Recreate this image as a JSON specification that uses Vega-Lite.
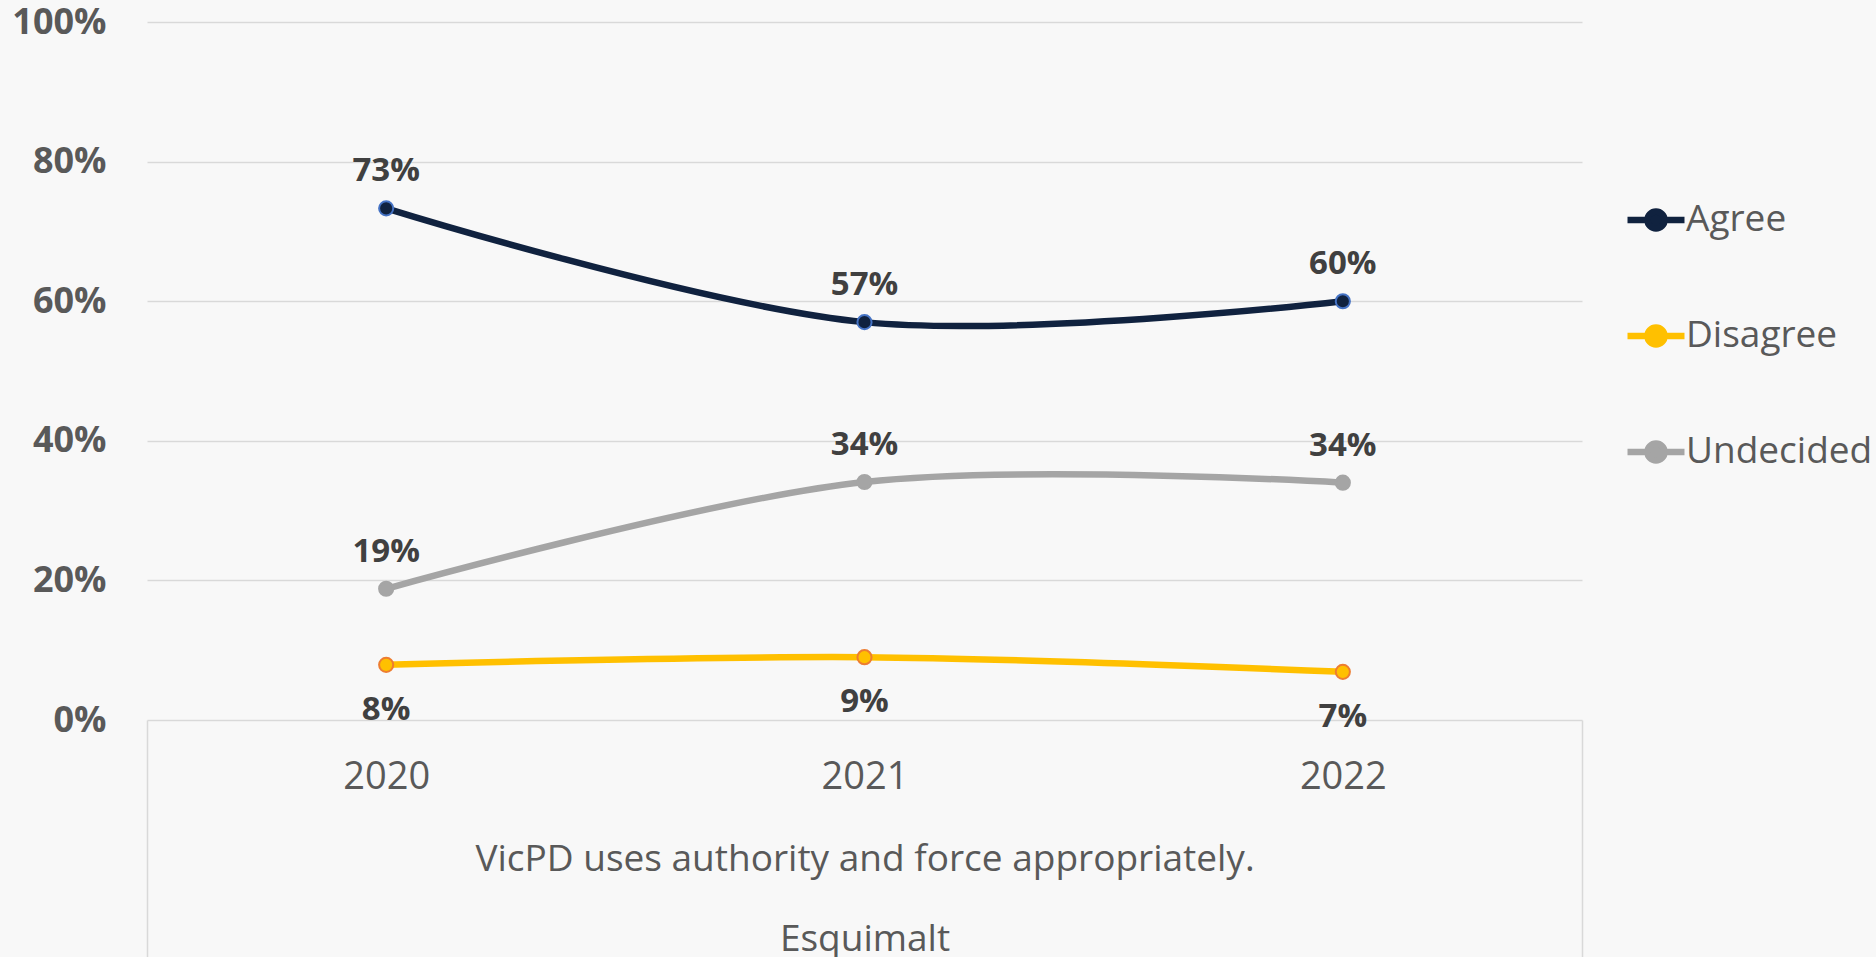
{
  "$schema": "https://vega.github.io/schema/vega-lite/v6.json",
  "width": 1435,
  "height": 698,
  "autosize": {"type": "none"},
  "padding": {"left": 147, "top": 22, "right": 294, "bottom": 237},
  "background": "#f8f8f8",
  "config": {"view": {"stroke": null}, "font": "Open Sans"},
  "data": {
    "values": [
      {"year": "2020", "series": "Agree", "value": 0.733},
      {"year": "2021", "series": "Agree", "value": 0.57},
      {"year": "2022", "series": "Agree", "value": 0.60},
      {"year": "2020", "series": "Disagree", "value": 0.079},
      {"year": "2021", "series": "Disagree", "value": 0.09},
      {"year": "2022", "series": "Disagree", "value": 0.069},
      {"year": "2020", "series": "Undecided", "value": 0.188},
      {"year": "2021", "series": "Undecided", "value": 0.341},
      {"year": "2022", "series": "Undecided", "value": 0.34}
    ]
  },
  "encoding": {
    "x": {
      "field": "year",
      "type": "nominal",
      "scale": {"type": "band", "paddingInner": 0, "paddingOuter": 0},
      "axis": {
        "title": ["VicPD uses authority and force appropriately.", "Esquimalt"],
        "titleFontSize": 37,
        "titleFontWeight": "normal",
        "titleColor": "#595959",
        "titleLineHeight": 80,
        "titleBaseline": "top",
        "titleY": 121,
        "labelAngle": 0,
        "labelFontSize": 38,
        "labelColor": "#595959",
        "labelPadding": -199,
        "domain": false,
        "ticks": true,
        "tickBand": "extent",
        "tickSize": 237,
        "tickColor": "#D9D9D9",
        "tickWidth": 1.5,
        "tickOpacity": {"condition": {"test": "datum.index == 1 || datum.index == -1", "value": 1}, "value": 0}
      }
    },
    "y": {
      "field": "value",
      "type": "quantitative",
      "scale": {"domain": [0, 1], "nice": false},
      "axis": {
        "title": null,
        "values": [0, 0.2, 0.4, 0.6, 0.8, 1],
        "format": ".0%",
        "labelFontSize": 36,
        "labelFontWeight": "bold",
        "labelColor": "#595959",
        "labelPadding": 41,
        "domain": false,
        "ticks": false,
        "gridColor": "#D9D9D9",
        "gridWidth": 1.5
      }
    },
    "color": {
      "field": "series",
      "type": "nominal",
      "scale": {"domain": ["Agree", "Disagree", "Undecided"], "range": ["#10223F", "#FFC000", "#A5A5A5"]},
      "legend": {
        "title": null,
        "orient": "none",
        "legendX": 1477,
        "legendY": 166,
        "padding": 0,
        "symbolType": "M-1,0L-0.3,0M0.3,0L1,0M0.3,0A0.3,0.3,0,1,1,-0.3,0A0.3,0.3,0,1,1,0.3,0Z",
        "symbolSize": 3249,
        "symbolStrokeWidth": 6.5,
        "labelFontSize": 37,
        "labelColor": "#595959",
        "labelOffset": -2,
        "labelLimit": 400,
        "rowPadding": 62,
        "encode": {
          "symbols": {
            "update": {
              "fill": {"scale": "color", "field": "value"},
              "stroke": {"scale": "color", "field": "value"},
              "opacity": {"value": 1}
            }
          }
        }
      }
    }
  },
  "layer": [
    {"mark": {"type": "line", "interpolate": "cardinal", "strokeWidth": 6.5}},
    {
      "mark": {"type": "point", "filled": true, "size": 200, "strokeWidth": 2, "opacity": 1},
      "encoding": {
        "stroke": {
          "field": "series",
          "type": "nominal",
          "scale": {"domain": ["Agree", "Disagree", "Undecided"], "range": ["#4472C4", "#ED7D31", "#A5A5A5"]},
          "legend": null
        }
      }
    },
    {
      "transform": [{"filter": "datum.series != 'Disagree'"}],
      "mark": {"type": "text", "dy": -37, "fontSize": 33, "fontWeight": "bold", "baseline": "middle"},
      "encoding": {"text": {"field": "value", "type": "quantitative", "format": ".0%"}, "color": {"value": "#404040"}}
    },
    {
      "transform": [{"filter": "datum.series == 'Disagree'"}],
      "mark": {"type": "text", "dy": 45, "fontSize": 33, "fontWeight": "bold", "baseline": "middle"},
      "encoding": {"text": {"field": "value", "type": "quantitative", "format": ".0%"}, "color": {"value": "#404040"}}
    }
  ]
}
